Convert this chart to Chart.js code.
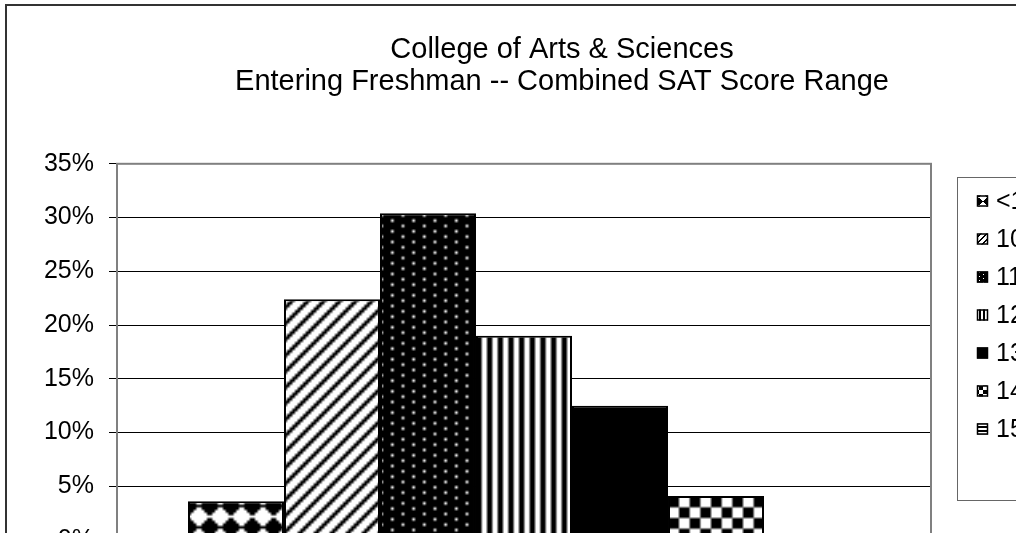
<!DOCTYPE html>
<html>
<head>
<meta charset="utf-8">
<script src="https://cdn.jsdelivr.net/npm/chart.js@4.4.0/dist/chart.umd.min.js"></script>
<style>
  html, body { margin:0; padding:0; background:#fff; overflow:hidden; width:1016px; height:533px; }
  #frame { position:absolute; left:5px; top:4px; border:2px solid #333; width:1110px; height:620px; }
  canvas { display:block; }
</style>
</head>
<body>
<div id="frame"><canvas id="chart" width="1110" height="620"></canvas></div>
<script>
// chart data
const categories = [''];
const titleLines = ['College of Arts & Sciences', 'Entering Freshman -- Combined SAT Score Range'];
const seriesLabels = ['<1000', '1000-1099', '1100-1199', '1200-1299', '1300-1399', '1400-1499', '1500-1600'];
const seriesValues = [0.036, 0.224, 0.304, 0.190, 0.125, 0.041, 0.003];
const yTickValues = [0, 0.05, 0.10, 0.15, 0.20, 0.25, 0.30, 0.35];

// small fill patterns like the old Excel ones (X = black)
const patternRows = [
  ['...XX...', '..XXXX..', '.XXXXXX.', 'XXXXXXXX', '.XXXXXX.', '..XXXX..', '...XX...', '........'],
  ['XX....', 'X....X', '....XX', '...XX.', '..XX..', '.XX...'],
  ['.XXXXXXX', 'XXXXXXXX', 'XXXX.XXX', 'XXXXXXXX', '.XXXXXXX', 'XXXXXXXX', 'XXXX.XXX', 'XXXXXXXX'],
  ['XX..', 'XX..', 'XX..', 'XX..'],
  ['X'],
  ['XXXX....', 'XXXX....', 'XXXX....', 'XXXX....', '....XXXX', '....XXXX', '....XXXX', '....XXXX'],
  ['XXXX', 'XXXX', '....', '....']
];

const FONT = '"Liberation Sans", Arial, sans-serif';
const canvas = document.getElementById('chart');
const ctx = canvas.getContext('2d');

function makePattern(rows, scale) {
  const h = rows.length, w = rows[0].length;
  const tile = document.createElement('canvas');
  tile.width = w; tile.height = h;
  const tctx = tile.getContext('2d');
  const img = tctx.createImageData(w, h);
  for (let y = 0; y < h; y++) {
    for (let x = 0; x < w; x++) {
      const v = rows[y][x] === 'X' ? 0 : 255;
      const i = (y * w + x) * 4;
      img.data[i] = v; img.data[i + 1] = v; img.data[i + 2] = v; img.data[i + 3] = 255;
    }
  }
  tctx.putImageData(img, 0, 0);
  const p = ctx.createPattern(tile, 'repeat');
  if (scale !== 1) p.setTransform(new DOMMatrix([scale, 0, 0, scale, 0, 0]));
  return p;
}

const barFills = patternRows.map(r => makePattern(r, 8 / 3));
const swatchFills = patternRows.map(r => makePattern(r, 1));

// grey frame round the plot area
const plotFrame = {
  id: 'plotFrame',
  beforeDatasetsDraw(chart) {
    const a = chart.chartArea;
    const c = chart.ctx;
    c.save();
    c.strokeStyle = '#808080';
    c.lineWidth = 2;
    c.strokeRect(a.left, a.top, a.right - a.left, a.bottom - a.top);
    c.restore();
  }
};

// boxed legend on the right, Excel style
const boxLegend = {
  id: 'boxLegend',
  afterDraw(chart) {
    const c = chart.ctx;
    const boxX = 950, boxY = 171, boxH = 323, rowH = 38, firstY = 195;
    c.save();
    c.strokeStyle = '#666';
    c.lineWidth = 1;
    c.strokeRect(boxX + 0.5, boxY + 0.5, 300, boxH);
    c.font = '25px ' + FONT;
    c.textBaseline = 'middle';
    chart.data.datasets.forEach((ds, i) => {
      const y = firstY + i * rowH;
      c.fillStyle = swatchFills[i];
      c.fillRect(970, y - 5.5, 11, 11);
      c.strokeStyle = '#000';
      c.lineWidth = 1.5;
      c.strokeRect(970.5, y - 5, 10, 10);
      c.fillStyle = '#000';
      c.fillText(ds.label, 989, y + 1);
    });
    c.restore();
  }
};

const datasets = seriesLabels.map((label, i) => ({
  label: label,
  data: [seriesValues[i]],
  backgroundColor: barFills[i],
  borderColor: '#000',
  borderWidth: 2,
  categoryPercentage: 0.8256,
  barPercentage: 1
}));

new Chart(ctx, {
  type: 'bar',
  data: { labels: categories, datasets: datasets },
  plugins: [plotFrame, boxLegend],
  options: {
    responsive: false,
    animation: false,
    layout: { padding: 0 },
    scales: {
      x: {
        type: 'category',
        ticks: { display: false },
        grid: { display: false },
        border: { display: false },
        afterFit: s => { s.height = 86; }
      },
      y: {
        min: 0,
        max: 0.35,
        afterBuildTicks: s => { s.ticks = yTickValues.map(v => ({ value: v })); },
        ticks: {
          color: '#000',
          padding: 15,
          font: { size: 25, family: FONT },
          callback: v => Math.round(v * 100) + '%'
        },
        grid: { color: '#000', lineWidth: 1, tickLength: 8 },
        border: { display: false },
        afterFit: s => { s.width = 110; }
      },
      yRight: {
        position: 'right',
        ticks: { display: false },
        grid: { display: false },
        border: { display: false },
        afterFit: s => { s.width = 186; }
      }
    },
    plugins: {
      legend: { display: false },
      tooltip: { enabled: false },
      title: {
        display: true,
        text: titleLines,
        color: '#000',
        font: { size: 29, family: FONT, weight: 'normal', lineHeight: 1.1 },
        padding: { top: 28, bottom: 66 }
      }
    }
  }
});
</script>
</body>
</html>
